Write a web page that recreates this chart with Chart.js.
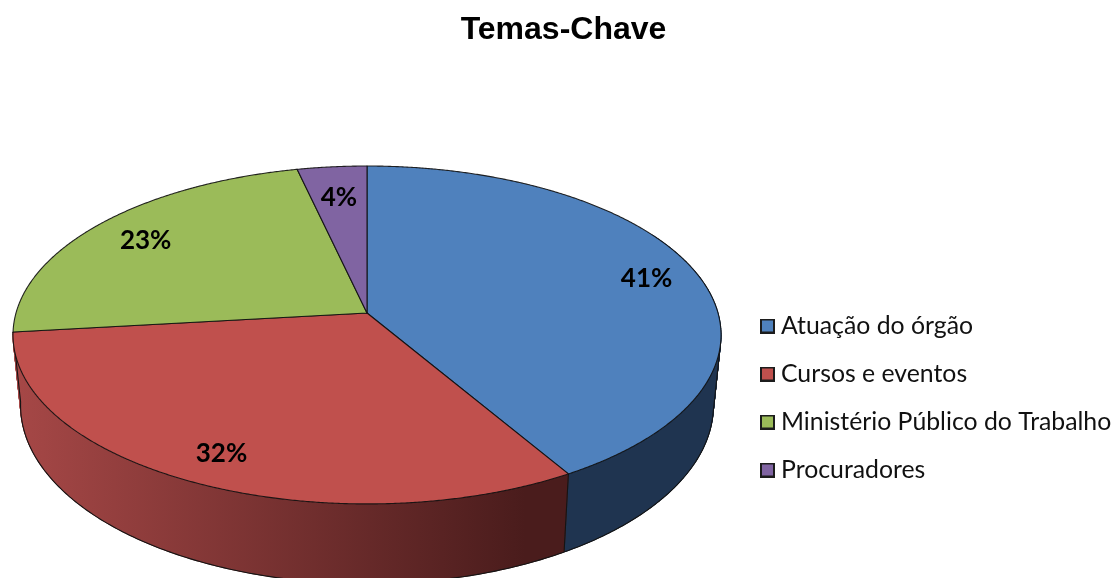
<!DOCTYPE html>
<html><head><meta charset="utf-8">
<style>html,body{margin:0;padding:0;background:#fff}#w{width:1116px;height:578px;position:relative}</style>
<script src="https://cdn.jsdelivr.net/npm/chart.js@4"></script>
</head><body><div id="w"><canvas id="c" width="1116" height="578"></canvas></div>
<script>
const categories = ['Atuação do órgão','Cursos e eventos','Ministério Público do Trabalho','Procuradores'];
const shares = [41.49, 31.71, 23.2, 3.6];
const percentLabels = ['41%','32%','23%','4%'];
const topColors = ['#4f81bd','#c0504d','#9bbb59','#8064a2'];
const labelReach = [0.85,0.84,0.82,0.78];

const K = -0.13;
const topPlane = {cx:367, cy:313, b:351, a:166.1};
const lowPlane = {cx:367, cy:382, b:343.5, a:175.5};
function proj(p, th, f){
  const u = Math.sin(th)*f, v = -Math.cos(th)*f, d = 1 + K*v;
  return [p.cx + p.b*u/d, p.cy + p.a*v/d];
}
const rad = d => d*Math.PI/180;

function legendSwatch(color){
  const c = document.createElement('canvas'); c.width = 15; c.height = 15;
  const g = c.getContext('2d');
  g.fillStyle = '#1c1c1c'; g.fillRect(0,0,15,15);
  g.fillStyle = color; g.fillRect(2,2,11,11);
  return c;
}

const pie3d = {
  id:'pie3d',
  beforeDraw(chart){
    const L = chart.legend, w = L.right - L.left;
    L.left = 743.2; L.right = L.left + w; L.top = 251; L.bottom = 545;
    const B = chart.titleBlock, tw = B.right - B.left;
    B.left = 9.5; B.right = 9.5 + tw;
  },
  beforeDatasetDraw(chart){
    const ctx = chart.ctx, arcs = chart.getDatasetMeta(0).data;
    const T = arcs.map(a => [a.startAngle+Math.PI/2, a.endAngle+Math.PI/2]);
    ctx.save();
    ctx.lineJoin='round';
    const grad = ctx.createLinearGradient(20,0,525,0);
    grad.addColorStop(0,'#a54746'); grad.addColorStop(1,'#4a1c1c');
    const sides = ['#1f3450', grad];
    const vis0 = rad(60), vis1 = rad(265);
    [0,1].forEach(i=>{
      const s = Math.max(T[i][0],vis0), e = Math.min(T[i][1],vis1), n = 160;
      ctx.fillStyle = sides[i]; ctx.strokeStyle = sides[i]; ctx.lineWidth=1;
      ctx.beginPath();
      for(let j=0;j<n;j++){
        const a=s+(e-s)*j/n, b=s+(e-s)*(j+1)/n;
        const p=[proj(topPlane,a,1),proj(topPlane,b,1),proj(lowPlane,b,1),proj(lowPlane,a,1)];
        ctx.moveTo(...p[0]); p.slice(1).forEach(q=>ctx.lineTo(...q)); ctx.closePath();
      }
      ctx.fill('nonzero'); ctx.stroke();
    });
    ctx.strokeStyle='#141414'; ctx.lineWidth=1.1;
    const redEnd = T[1][1], tan = rad(100);
    ctx.beginPath();
    ctx.moveTo(...proj(topPlane,tan,1));
    for(let a=tan;a<=redEnd;a+=0.01) ctx.lineTo(...proj(lowPlane,a,1));
    ctx.lineTo(...proj(lowPlane,redEnd,1));
    ctx.lineTo(...proj(topPlane,redEnd,1));
    ctx.moveTo(...proj(topPlane,T[0][1],1));
    ctx.lineTo(...proj(lowPlane,T[0][1],1));
    ctx.stroke();
    T.forEach((t,i)=>{
      ctx.beginPath();
      ctx.moveTo(topPlane.cx,topPlane.cy);
      for(let a=t[0];a<t[1];a+=0.005) ctx.lineTo(...proj(topPlane,a,1));
      ctx.lineTo(...proj(topPlane,t[1],1));
      ctx.closePath();
      ctx.fillStyle=topColors[i]; ctx.fill();
      ctx.strokeStyle='rgba(15,15,15,0.9)'; ctx.lineWidth=1.1; ctx.stroke();
    });
    ctx.fillStyle='#000'; ctx.font='bold 26px Lato'; ctx.textAlign='center'; ctx.textBaseline='middle';
    T.forEach((t,i)=>{
      const q=proj(topPlane,(t[0]+t[1])/2,labelReach[i]);
      ctx.fillText(percentLabels[i],q[0],q[1]+2);
    });
    ctx.restore();
    return false;
  }
};

new Chart(document.getElementById('c'),{
  type:'pie',
  data:{labels:categories,datasets:[{data:shares,backgroundColor:topColors,borderColor:'#1a1a1a',borderWidth:1.6}]},
  plugins:[pie3d],
  options:{
    responsive:false,animation:false,
    layout:{padding:{left:0,right:8,top:0,bottom:118}},
    plugins:{
      tooltip:{enabled:false},
      title:{display:true,text:'Temas-Chave',color:'#000',font:{family:'Liberation Sans',size:32,weight:'bold'},padding:{top:11,bottom:116.6}},
      legend:{position:'right',align:'center',labels:{
        color:'#111',usePointStyle:true,pointStyleWidth:2.2,boxHeight:15,padding:23.2,font:{family:'Lato',size:24.8},
        generateLabels(chart){
          return categories.map((text,i)=>({text,index:i,fontColor:'#111',pointStyle:legendSwatch(topColors[i]),hidden:false,lineWidth:0}));
        }
      }}
    }
  }
});
</script></body></html>
